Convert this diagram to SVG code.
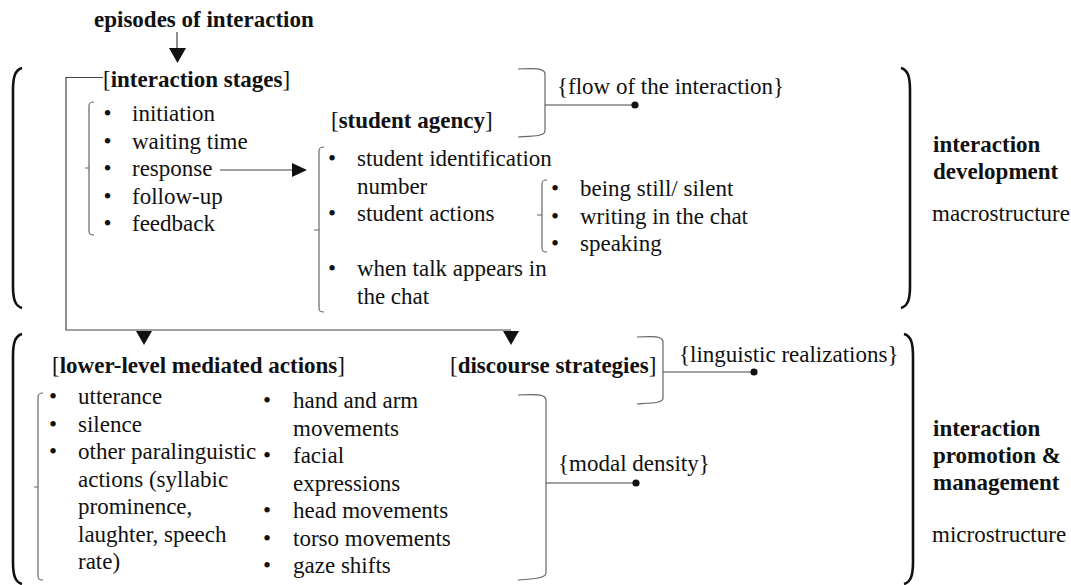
<svg xmlns="http://www.w3.org/2000/svg" width="1071" height="585" viewBox="0 0 1071 585">
<style>
text{font-family:"Liberation Serif","Times New Roman",serif;font-size:23px;fill:#111}
.b{font-weight:bold}
.br{fill:none;stroke:#666;stroke-width:1.2}
.big{fill:none;stroke:#111;stroke-width:2.6}
.ln{fill:none;stroke:#444;stroke-width:1.2}
.ah{fill:#111}
</style>
<rect width="1071" height="585" fill="#fff"/>

<g id="big-brackets">
<path class="big" d="M22 68 C15 70 13 77 13 90 V286 C13 299 15 306 22 308"/>
<path class="big" d="M901 68 C908 70 910 77 910 90 V286 C910 299 908 306 901 308"/>
<path class="big" d="M22 334 C15 336 13 343 13 356 V562 C13 575 15 582 22 584"/>
<path class="big" d="M904 334 C911 336 913 343 913 356 V562 C913 575 911 582 904 584"/>
</g>

<g id="connectors">
<path class="ln" d="M177 32 V49"/>
<polygon class="ah" points="169,48 186,48 177.5,63"/>
<path class="ln" d="M103 77.5 H66 V330 H511"/>
<polygon class="ah" points="136,331 152,331 144,345"/>
<polygon class="ah" points="503,331 519,331 511,345"/>
<path class="ln" d="M220 170 H292"/>
<polygon class="ah" points="292,163 307,170 292,177"/>
<path class="ln" d="M545 105 H635"/>
<circle class="ah" cx="635" cy="105" r="3.6"/>
<path class="ln" d="M663 372 H754"/>
<circle class="ah" cx="754" cy="372" r="3.6"/>
<path class="ln" d="M546 483 H636"/>
<circle class="ah" cx="636" cy="483" r="3.6"/>
</g>

<g id="episodes">
<text class="b" x="94" y="27">episodes of interaction</text>
</g>

<g id="interaction-stages">
<text x="103" y="87">[<tspan class="b">interaction stages</tspan>]</text>
<path class="br" d="M94 102 C90 102 89 103 89 106 V231 C89 234 90 235 94 235 M89 168 H85"/>
<text x="103.5" y="121">•</text><text x="132" y="121">initiation</text>
<text x="103.5" y="148.5">•</text><text x="132" y="148.5">waiting time</text>
<text x="103.5" y="176">•</text><text x="132" y="176">response</text>
<text x="103.5" y="203.5">•</text><text x="132" y="203.5">follow-up</text>
<text x="103.5" y="231">•</text><text x="132" y="231">feedback</text>
</g>

<g id="student-agency">
<text x="331" y="128">[<tspan class="b">student agency</tspan>]</text>
<path class="br" d="M324 147 C320 147 319 148 319 151 V308 C319 311 320 312 324 312 M319 230 H314"/>
<text x="328" y="166">•</text><text x="357" y="166">student identification</text>
<text x="357" y="193.5">number</text>
<text x="328" y="221">•</text><text x="357" y="221">student actions</text>
<text x="328" y="276">•</text><text x="357" y="276">when talk appears in</text>
<text x="357" y="303.5">the chat</text>
</g>

<g id="student-actions">
<path class="br" d="M547 180 C543 180 542 181 542 184 V248 C542 251 543 252 547 252 M542 215 H537"/>
<text x="551" y="196">•</text><text x="580" y="196">being still/ silent</text>
<text x="551" y="223.5">•</text><text x="580" y="223.5">writing in the chat</text>
<text x="551" y="251">•</text><text x="580" y="251">speaking</text>
</g>

<g id="flow">
<path class="br" d="M518 69 C534 68 545 68 545 74 V131 C545 136 534 136 518 137"/>
<text x="557" y="94">{flow of the interaction}</text>
</g>

<g id="macro">
<text class="b" x="933" y="152">interaction</text>
<text class="b" x="933" y="179">development</text>
<text x="932" y="221">macrostructure</text>
</g>

<g id="lower-level">
<text x="52" y="373">[<tspan class="b">lower-level mediated actions</tspan>]</text>
<path class="br" d="M43 393 C39 393 38 394 38 397 V576 C38 579 39 580 43 580 M38 487 H34"/>
<text x="49" y="404">•</text><text x="78" y="404">utterance</text>
<text x="49" y="431.5">•</text><text x="78" y="431.5">silence</text>
<text x="49" y="459">•</text><text x="78" y="459">other paralinguistic</text>
<text x="78" y="486.5">actions (syllabic</text>
<text x="78" y="514">prominence,</text>
<text x="78" y="541.5">laughter, speech</text>
<text x="78" y="569">rate)</text>
<text x="263" y="408">•</text><text x="293" y="408">hand and arm</text>
<text x="293" y="435.5">movements</text>
<text x="263" y="463">•</text><text x="293" y="463">facial</text>
<text x="293" y="490.5">expressions</text>
<text x="263" y="518">•</text><text x="293" y="518">head movements</text>
<text x="263" y="545.5">•</text><text x="293" y="545.5">torso movements</text>
<text x="263" y="573">•</text><text x="293" y="573">gaze shifts</text>
</g>

<g id="modal-density">
<path class="br" d="M518 395 C535 394 546 394 546 400 V573 C546 578 535 579 518 580"/>
<text x="558" y="471">{modal density}</text>
</g>

<g id="discourse-strategies">
<text x="450" y="373">[<tspan class="b">discourse strategies</tspan>]</text>
<path class="br" d="M637 337 C653 336 663 336 663 342 V398 C663 403 653 403 637 404"/>
<text x="679" y="362">{linguistic realizations}</text>
</g>

<g id="micro">
<text class="b" x="933" y="436">interaction</text>
<text class="b" x="933" y="463">promotion &amp;</text>
<text class="b" x="933" y="490">management</text>
<text x="932" y="542">microstructure</text>
</g>
</svg>
